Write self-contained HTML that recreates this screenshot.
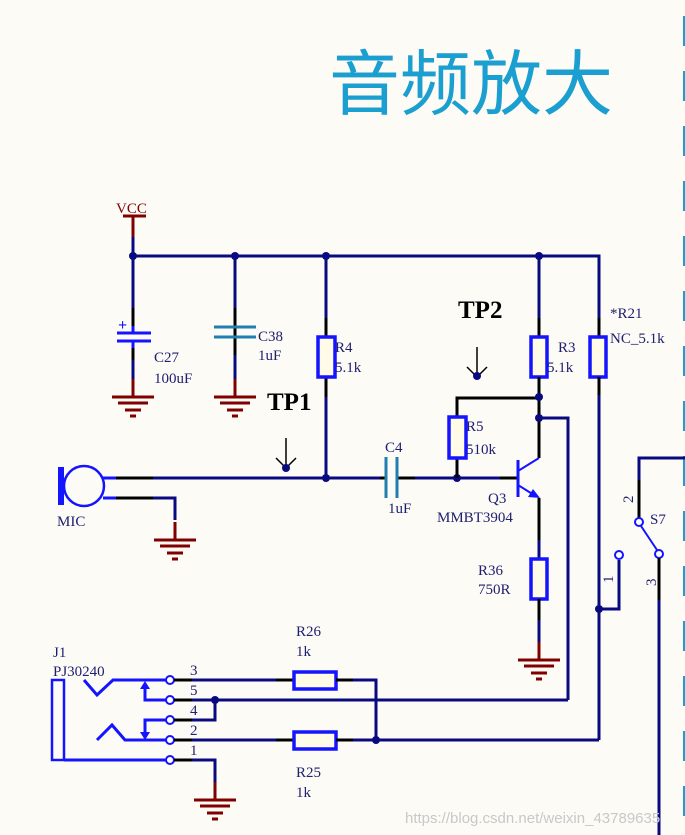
<!DOCTYPE html>
<html><head><meta charset="utf-8"><style>
html,body{margin:0;padding:0;background:#fdfbf6;}
svg{display:block}
text{font-family:"Liberation Serif",serif;fill:#202070;font-size:15px}
.n{stroke:#0a0a80;stroke-width:3;fill:none}
.k{stroke:#000;stroke-width:3;fill:none}
.r{stroke:#800000;stroke-width:3;fill:none}
.b{stroke:#1414ff;stroke-width:3;fill:none}
.res{fill:#fffbe6;stroke:#1414ff;stroke-width:3.5}
.d{fill:#0a0a80}
.pc{fill:#fff;stroke:#1414ff;stroke-width:2}
</style></head><body>
<svg width="685" height="835" viewBox="0 0 685 835">
<text x="329" y="109" style="font-family:'Noto Sans CJK SC',sans-serif;font-size:71px;fill:#1a9fd0">音频放大</text>
<line x1="684" y1="16" x2="684" y2="835" stroke="#1a9fd0" stroke-width="2" stroke-dasharray="30,25"/>

<text x="116" y="213" style="fill:#800000">VCC</text>
<line class="r" x1="123" y1="216" x2="146" y2="216"/>
<line class="r" x1="133" y1="216" x2="133" y2="237"/>
<line class="n" x1="133" y1="237" x2="133" y2="256"/>
<polyline class="n" points="133,256 599,256 599,740"/>
<circle class="d" cx="133" cy="256" r="4"/><circle class="d" cx="235" cy="256" r="4"/>
<circle class="d" cx="326" cy="256" r="4"/><circle class="d" cx="539" cy="256" r="4"/>

<defs><g id="gnd"><line class="r" x1="0" y1="-18" x2="0" y2="0"/><line class="r" x1="-21" y1="0" x2="21" y2="0"/><line class="r" x1="-15" y1="6" x2="15" y2="6"/><line class="r" x1="-8" y1="13" x2="8" y2="13"/><line class="r" x1="-3" y1="19" x2="3" y2="19"/></g></defs>

<line class="n" x1="133" y1="256" x2="133" y2="308"/><line class="k" x1="133" y1="308" x2="133" y2="326"/>
<line class="b" x1="133" y1="326" x2="133" y2="333"/>
<line class="b" x1="117" y1="333" x2="151" y2="333"/><line class="b" x1="117" y1="341" x2="151" y2="341"/>
<line class="b" x1="133" y1="341" x2="133" y2="348"/>
<text x="118" y="330" style="fill:#1414ff;font-weight:bold;font-size:16px">+</text>
<line class="k" x1="133" y1="348" x2="133" y2="360"/><line class="n" x1="133" y1="360" x2="133" y2="380"/>
<use href="#gnd" x="133" y="397"/>
<text x="154" y="362">C27</text><text x="154" y="383">100uF</text>
<line class="n" x1="235" y1="256" x2="235" y2="308"/><line class="k" x1="235" y1="308" x2="235" y2="355"/>
<line x1="214" y1="327" x2="256" y2="327" stroke="#1e7fb0" stroke-width="3"/><line x1="214" y1="337" x2="256" y2="337" stroke="#1e7fb0" stroke-width="3"/>
<line class="n" x1="235" y1="355" x2="235" y2="380"/>
<use href="#gnd" x="235" y="397"/>
<text x="258" y="341">C38</text><text x="258" y="360">1uF</text>
<line class="n" x1="326" y1="256" x2="326" y2="318"/><line class="k" x1="326" y1="318" x2="326" y2="337"/>
<line class="k" x1="326" y1="377" x2="326" y2="397"/><line class="n" x1="326" y1="397" x2="326" y2="478"/>
<rect class="res" x="318" y="337" width="17" height="40"/>
<text x="335" y="352">R4</text><text x="335" y="372">5.1k</text>
<text x="267" y="410" style="font-weight:bold;font-size:25px;fill:#000">TP1</text>
<line x1="286" y1="438" x2="286" y2="468" stroke="#000" stroke-width="1.5"/>
<polyline points="276,458 286,468 296,458" fill="none" stroke="#000" stroke-width="1.5"/>
<circle class="d" cx="286" cy="468" r="4"/>
<rect x="58" y="467" width="6" height="38" fill="#1414ff"/>
<circle cx="84" cy="486" r="20" fill="none" stroke="#1414ff" stroke-width="2.5"/>
<line class="b" x1="103" y1="478" x2="116" y2="478"/><line class="k" x1="116" y1="478" x2="153" y2="478"/>
<line class="n" x1="153" y1="478" x2="380" y2="478"/>
<circle class="d" cx="326" cy="478" r="4"/>
<line class="b" x1="103" y1="498" x2="116" y2="498"/><line class="k" x1="116" y1="498" x2="153" y2="498"/>
<polyline class="n" points="153,498 175,498 175,520"/>
<use href="#gnd" x="175" y="540"/>
<text x="57" y="526">MIC</text>
<line class="k" x1="380" y1="478" x2="386" y2="478"/><line class="k" x1="397" y1="478" x2="415" y2="478"/>
<line x1="386" y1="457" x2="386" y2="498" stroke="#1e7fb0" stroke-width="3"/><line x1="397" y1="457" x2="397" y2="498" stroke="#1e7fb0" stroke-width="3"/>
<line class="n" x1="415" y1="478" x2="500" y2="478"/><line class="k" x1="500" y1="478" x2="518" y2="478"/>
<circle class="d" cx="457" cy="478" r="4"/>
<text x="385" y="452">C4</text><text x="388" y="513">1uF</text>
<line class="k" x1="457" y1="458" x2="457" y2="478"/>
<polyline class="k" points="457,417 457,398 539,398"/>
<rect class="res" x="449" y="417" width="17" height="41"/>
<text x="466" y="431">R5</text><text x="466" y="454">510k</text>
<text x="458" y="318" style="font-weight:bold;font-size:25px;fill:#000">TP2</text>
<line x1="477" y1="347" x2="477" y2="377" stroke="#000" stroke-width="1.5"/>
<polyline points="467,367 477,377 487,367" fill="none" stroke="#000" stroke-width="1.5"/>
<circle class="d" cx="477" cy="376" r="4"/>
<line class="n" x1="539" y1="256" x2="539" y2="318"/><line class="k" x1="539" y1="318" x2="539" y2="337"/>
<rect class="res" x="531" y="337" width="16" height="40"/>
<line class="k" x1="539" y1="377" x2="539" y2="458"/>
<circle class="d" cx="539" cy="397" r="4"/><circle class="d" cx="539" cy="418" r="4"/>
<polyline class="n" points="539,418 568,418 568,700"/>
<text x="558" y="352">R3</text><text x="547" y="372">5.1k</text>
<line x1="518" y1="460" x2="518" y2="497" stroke="#1414ff" stroke-width="3"/>
<line x1="518" y1="471" x2="539" y2="458" stroke="#1414ff" stroke-width="2"/>
<line x1="518" y1="485" x2="534" y2="495" stroke="#1414ff" stroke-width="2"/>
<polygon points="540,498 528,497 533,489" fill="#1414ff"/>
<line class="k" x1="539" y1="498" x2="539" y2="540"/><line class="n" x1="539" y1="540" x2="539" y2="559"/>
<rect class="res" x="531" y="559" width="16" height="40"/>
<line class="k" x1="539" y1="599" x2="539" y2="620"/><line class="n" x1="539" y1="620" x2="539" y2="642"/>
<use href="#gnd" x="539" y="660"/>
<text x="488" y="503">Q3</text><text x="437" y="522">MMBT3904</text>
<text x="478" y="575">R36</text><text x="478" y="594">750R</text>
<line class="k" x1="599" y1="318" x2="599" y2="337"/>
<rect class="res" x="590" y="337" width="16" height="40"/>
<line class="k" x1="599" y1="377" x2="599" y2="395"/>
<text x="610" y="318">*R21</text><text x="610" y="343">NC_5.1k</text>
<polyline class="n" points="599,609 619,609 619,560"/>
<circle class="d" cx="599" cy="609" r="4"/>
<circle class="pc" cx="619" cy="555" r="4"/>
<text x="0" y="0" transform="translate(613,583) rotate(-90)">1</text>
<polyline class="n" points="685,458 639,458 639,480"/>
<line class="k" x1="639" y1="480" x2="639" y2="518"/>
<circle class="pc" cx="639" cy="522" r="4"/>
<line x1="641" y1="526" x2="657" y2="550" stroke="#1414ff" stroke-width="2"/>
<circle class="pc" cx="659" cy="554" r="4"/>
<line class="k" x1="659" y1="558" x2="659" y2="600"/><line class="n" x1="659" y1="600" x2="659" y2="835"/>
<text x="0" y="0" transform="translate(633,503) rotate(-90)">2</text>
<text x="0" y="0" transform="translate(656,586) rotate(-90)">3</text>
<text x="650" y="524">S7</text>
<text x="53" y="657">J1</text><text x="53" y="676">PJ30240</text>
<rect x="52" y="680" width="12" height="80" fill="none" stroke="#1414ff" stroke-width="2.5"/>
<line class="b" x1="64" y1="760" x2="166" y2="760"/>
<polyline class="b" points="84,680 97,695 113,680 166,680"/>
<polyline class="b" points="145,686 145,700 166,700"/>
<polygon points="145,681 140,689 150,689" fill="#1414ff"/>
<polyline class="b" points="166,720 145,720 145,734"/>
<polygon points="145,740 140,732 150,732" fill="#1414ff"/>
<polyline class="b" points="97,740 112,725 125,740 166,740"/>
<g class="pc"><circle cx="170" cy="680" r="4"/><circle cx="170" cy="700" r="4"/><circle cx="170" cy="720" r="4"/><circle cx="170" cy="740" r="4"/><circle cx="170" cy="760" r="4"/></g>
<text x="190" y="675">3</text><text x="190" y="695">5</text><text x="190" y="715">4</text><text x="190" y="735">2</text><text x="190" y="755">1</text>
<g class="k"><line x1="174" y1="680" x2="192" y2="680"/><line x1="174" y1="700" x2="192" y2="700"/><line x1="174" y1="720" x2="192" y2="720"/><line x1="174" y1="740" x2="192" y2="740"/><line x1="174" y1="760" x2="192" y2="760"/></g>
<line class="n" x1="192" y1="680" x2="276" y2="680"/><line class="k" x1="276" y1="680" x2="294" y2="680"/>
<rect class="res" x="294" y="672" width="42" height="17"/>
<line class="k" x1="336" y1="680" x2="353" y2="680"/>
<polyline class="n" points="353,680 376,680 376,740"/>
<line class="n" x1="192" y1="700" x2="568" y2="700"/>
<polyline class="n" points="192,720 215,720 215,700"/>
<circle class="d" cx="215" cy="700" r="4"/>
<line class="n" x1="192" y1="740" x2="276" y2="740"/><line class="k" x1="276" y1="740" x2="294" y2="740"/>
<rect class="res" x="294" y="732" width="42" height="17"/>
<line class="k" x1="336" y1="740" x2="353" y2="740"/>
<line class="n" x1="353" y1="740" x2="599" y2="740"/>
<circle class="d" cx="376" cy="740" r="4"/>
<polyline class="n" points="192,760 215,760 215,782"/>
<use href="#gnd" x="215" y="800"/>
<text x="296" y="636">R26</text><text x="296" y="656">1k</text>
<text x="296" y="777">R25</text><text x="296" y="797">1k</text>
<text x="405" y="823" style="font-family:'Liberation Sans',sans-serif;fill:#c8c8c8;font-size:15px">https://blog.csdn.net/weixin_43789635</text>
</svg>
</body></html>
